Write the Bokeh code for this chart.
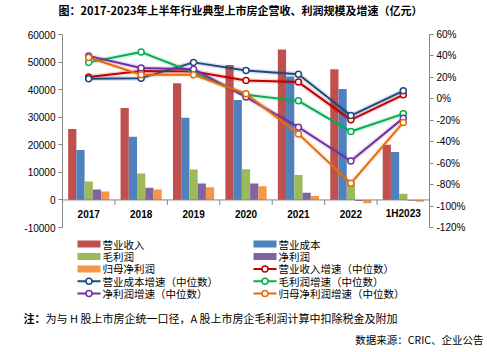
from bokeh.plotting import figure
from bokeh.models import (Range1d, LinearAxis, Label, FixedTicker, PrintfTickFormatter)
from bokeh.layouts import column
from bokeh.core.properties import value
from bokeh.embed import file_html
from bokeh.resources import INLINE
import numpy as np

categories = ["2017", "2018", "2019", "2020", "2021", "2022", "1H2023"]
revenue = [25700, 33300, 42300, 48900, 54600, 47400, 20000]
cost = [18100, 22900, 29800, 36200, 44800, 40200, 17400]
gross = [6700, 9600, 11000, 11100, 9000, 6600, 2200]
net = [3800, 4400, 6000, 6000, 2600, -400, -300]
parent = [3100, 3800, 4600, 5000, 1400, -1200, -700]
rev_g = [20.3, 26.0, 25.5, 17.0, 15.6, -19.6, 3.7]
cost_g = [18.7, 19.3, 34.0, 26.5, 23.0, -15.6, 7.5]
gross_g = [34.0, 43.6, 24.6, 3.7, -1.9, -30.5, -14.0]
net_g = [40.0, 28.7, 27.7, 1.6, -26.4, -58.0, -18.0]
parent_g = [38.6, 22.4, 22.4, 4.7, -32.7, -78.8, -22.0]

bar_names = ["营业收入", "营业成本", "毛利润", "净利润", "归母净利润"]
line_names = ["营业收入增速（中位数）", "营业成本增速（中位数）", "毛利润增速（中位数）",
              "净利润增速（中位数）", "归母净利润增速（中位数）"]
bar_colors = ["#C0504D", "#4F81BD", "#9BBB59", "#8064A2", "#F79646"]
line_colors = ["#C00000", "#1F497D", "#00B050", "#7030A0", "#E46C0A"]

title_text = "图：2017-2023年上半年行业典型上市房企营收、利润规模及增速（亿元）"
note_head = "注："
note_text = "为与 H 股上市房企统一口径，A 股上市房企毛利润计算中扣除税金及附加"
source_text = "数据来源：CRIC、企业公告"

FONT = "Noto Sans CJK SC"
LAT = "Liberation Sans"
W = 487


def blank(h):
    f = figure(width=W, height=h, x_range=Range1d(0, W), y_range=Range1d(0, h),
               output_backend="svg", toolbar_location=None, min_border=0,
               x_axis_location=None, y_axis_location=None)
    f.outline_line_color = None
    f.grid.visible = False
    f.background_fill_color = "white"
    f.border_fill_color = "white"
    f.frame_align = False
    return f


# ---- title strip ----
TH = 20
t = blank(TH)
t.add_layout(Label(x=240, y=TH - 9, text=title_text, text_font=FONT, text_font_size="11px",
                   text_font_style="bold", text_align="center", text_baseline="middle",
                   text_color="#000000"))

# ---- main chart ----
PH = 216
p = figure(width=W, height=PH, x_range=Range1d(0, 7), y_range=Range1d(-10000, 60000),
           output_backend="svg", toolbar_location=None, x_axis_location=None,
           min_border_left=62, min_border_right=58, min_border_top=14, min_border_bottom=9)
p.outline_line_color = None
p.xgrid.visible = False
p.ygrid.visible = False
p.background_fill_color = "white"
p.border_fill_color = "white"
p.frame_align = False

p.extra_y_ranges = {"pct": Range1d(-120, 60)}

yax = p.yaxis[0]
yax.ticker = FixedTicker(ticks=list(range(-10000, 60001, 10000)))
yax.formatter = PrintfTickFormatter(format="%d")

rax = LinearAxis(y_range_name="pct", ticker=FixedTicker(ticks=list(range(-120, 61, 20))),
                 formatter=PrintfTickFormatter(format="%d%%"))
p.add_layout(rax, "right")

for ax in [yax, rax]:
    ax.axis_line_color = "#868686"
    ax.major_tick_line_color = "#868686"
    ax.minor_tick_line_color = None
    ax.major_tick_out = 4
    ax.major_tick_in = 0
    ax.major_label_text_font = LAT
    ax.major_label_text_font_size = "10px"
    ax.major_label_text_color = "#000000"
    ax.major_label_standoff = 3

centers = np.arange(len(categories)) + 0.5
bw = 0.157
bar_data = [revenue, cost, gross, net, parent]
for i, (vals, c) in enumerate(zip(bar_data, bar_colors)):
    p.vbar(x=centers + (i - 2) * bw, top=vals, bottom=0, width=bw,
           fill_color=c, line_color=None)

# zero axis line and category tick marks
p.line(x=[0, 7], y=[0, 0], line_color="#868686", line_width=1)
p.segment(x0=np.arange(8), y0=[0] * 8, x1=np.arange(8), y1=[-1800] * 8,
          line_color="#868686", line_width=1)
p.text(x=centers, y=[-5100] * 7, text=categories, text_font=value(LAT),
       text_font_size="10px", text_font_style="bold", text_align="center",
       text_baseline="middle", text_color="#000000")

line_data = [rev_g, cost_g, gross_g, net_g, parent_g]
for vals, c in zip(line_data, line_colors):
    p.line(x=centers, y=vals, y_range_name="pct", line_color=c, line_width=5, line_alpha=0.15)
    p.line(x=centers, y=vals, y_range_name="pct", line_color=c, line_width=2)
    p.scatter(x=centers, y=vals, y_range_name="pct", marker="circle", size=6,
              fill_color="white", line_color=c, line_width=1.5)

# ---- bottom strip: legend + notes (pixel coordinates, y up) ----
BH = 352 - TH - PH
q = blank(BH)
top0 = TH + PH  # canvas y of this strip's top


def cy(canvas_y):
    return BH - (canvas_y - top0)


row_y = [243.5, 256.0, 268.4, 280.8, 293.0]
col_x = [77, 253]
names = bar_names + line_names
for k, name in enumerate(names):
    r, cidx = divmod(k, 2)
    x0 = col_x[cidx]
    y = cy(row_y[r])
    if k < 5:
        q.rect(x=[x0 + 11.5], y=[y], width=23, height=7, fill_color=bar_colors[k], line_color=None)
    else:
        c = line_colors[k - 5]
        q.line(x=[x0, x0 + 23], y=[y, y], line_color=c, line_width=2)
        q.scatter(x=[x0 + 11.5], y=[y], marker="circle", size=6, fill_color="white",
                  line_color=c, line_width=1.5)
    q.text(x=[x0 + 25], y=[y], text=[name], text_font=value(FONT), text_font_size="10.5px",
           text_align="left", text_baseline="middle", text_color="#000000")

q.add_layout(Label(x=23, y=cy(317), text=note_head, text_font=FONT, text_font_size="11px",
                   text_font_style="bold", text_align="left", text_baseline="middle",
                   text_color="#000000"))
q.add_layout(Label(x=45, y=cy(317), text=note_text, text_font=FONT, text_font_size="11px",
                   text_align="left", text_baseline="middle", text_color="#000000"))
q.add_layout(Label(x=483, y=cy(339), text=source_text, text_font=FONT, text_font_size="10.5px",
                   text_align="right", text_baseline="middle", text_color="#000000"))

layout = column(t, p, q, spacing=0)
open("out.html", "w").write(file_html(layout, INLINE))
